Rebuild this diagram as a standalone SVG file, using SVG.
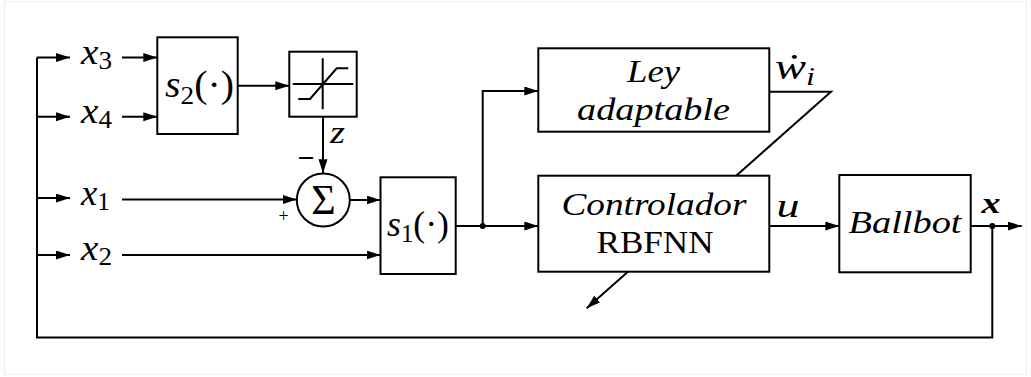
<svg xmlns="http://www.w3.org/2000/svg" width="1031" height="377" viewBox="0 0 1031 377">
<style>
.box{fill:#fff;stroke:#000;stroke-width:2}
.ln{fill:none;stroke:#000;stroke-width:2}
.arr{fill:none;stroke:#000;stroke-width:2;marker-end:url(#ah)}
text{font-family:"Liberation Serif","DejaVu Serif",serif;fill:#000}
.it{font-style:italic}
.lbl{font-size:36px}
.sub{font-size:25px}
.big{font-size:31px}
</style>
<defs>
<marker id="ah" markerUnits="userSpaceOnUse" markerWidth="15" markerHeight="10" refX="14" refY="4.5" orient="auto">
<path d="M0,0 L14,4.5 L0,9 z" fill="#000"/>
</marker>
</defs>
<rect x="4.5" y="1.5" width="1022" height="373" fill="#fff" stroke="#ececec" stroke-width="1"/>
<g id="connectors">
<path class="ln" d="M992.3,226 V337.5 H37 V57.5"/>
<path class="arr" d="M37,57.5 H70"/>
<path class="arr" d="M37,116.7 H70"/>
<path class="arr" d="M37,198 H70"/>
<path class="arr" d="M37,255 H70"/>
<path class="arr" d="M122,57.5 H157.3"/>
<path class="arr" d="M122,116.7 H157.3"/>
<path class="arr" d="M122,199.5 H296.7"/>
<path class="arr" d="M122,255 H380.5"/>
<path class="arr" d="M237.7,85.7 H289.3"/>
<path class="arr" d="M323,116.7 V173.3"/>
<path class="arr" d="M350,200 H380.5"/>
<path class="arr" d="M455.7,226 H538.3"/>
<path class="arr" d="M482.7,226 V91 H538.3"/>
<path class="arr" d="M769.3,91.7 H831 L586.7,308.3"/>
<path class="arr" d="M769.3,226 H839.3"/>
<path class="arr" d="M970.7,226 H1021.7"/>
<circle cx="482.7" cy="226" r="3" fill="#000"/>
<circle cx="992.3" cy="226" r="3" fill="#000"/>
</g>
<g id="labels">
<text class="lbl" x="81" y="64" textLength="31" lengthAdjust="spacingAndGlyphs"><tspan class="it">x</tspan><tspan class="sub" dy="5">3</tspan></text>
<text class="lbl" x="81" y="123" textLength="31" lengthAdjust="spacingAndGlyphs"><tspan class="it">x</tspan><tspan class="sub" dy="5">4</tspan></text>
<text class="lbl" x="81" y="205" textLength="29" lengthAdjust="spacingAndGlyphs"><tspan class="it">x</tspan><tspan class="sub" dy="5">1</tspan></text>
<text class="lbl" x="81" y="260" textLength="31" lengthAdjust="spacingAndGlyphs"><tspan class="it">x</tspan><tspan class="sub" dy="5">2</tspan></text>
<text class="it" x="330" y="143" font-size="32" textLength="15" lengthAdjust="spacingAndGlyphs">z</text>
<text x="305.8" y="168" font-size="30" font-weight="bold" text-anchor="middle">−</text>
<text x="283.5" y="222" font-size="18" text-anchor="middle">+</text>
<text class="lbl" x="775" y="79" textLength="40" lengthAdjust="spacingAndGlyphs"><tspan class="it">ẇ</tspan><tspan class="sub it" dy="6">i</tspan></text>
<text class="it" x="776.5" y="216.5" font-size="34" textLength="23" lengthAdjust="spacingAndGlyphs">u</text>
<text class="it" x="981.5" y="213" font-size="30" font-weight="bold" textLength="19" lengthAdjust="spacingAndGlyphs">x</text>
</g>
<g id="s2">
<rect class="box" x="157.3" y="37.3" width="80.4" height="96.7"/>
<text x="165" y="97" font-size="38" textLength="69" lengthAdjust="spacingAndGlyphs"><tspan class="it">s</tspan><tspan font-size="26" dy="7">2</tspan><tspan dy="-7">(·)</tspan></text>
</g>
<g id="saturation">
<rect class="box" x="289.3" y="51.7" width="67.4" height="65"/>
<path class="ln" d="M292.7,84 H353.3 M322.7,58.3 V109.3 M298.3,99 H310 L336.7,68.3 H348.3"/>
</g>
<g id="sum">
<circle class="box" cx="323.3" cy="200" r="26.5"/>
<text x="323.5" y="214" font-size="42" text-anchor="middle">Σ</text>
</g>
<g id="s1">
<rect class="box" x="380.5" y="177.3" width="75.2" height="96.7"/>
<text x="387" y="236" font-size="36" textLength="62" lengthAdjust="spacingAndGlyphs"><tspan class="it">s</tspan><tspan font-size="25" dy="6">1</tspan><tspan dy="-6">(·)</tspan></text>
</g>
<g id="ley">
<rect class="box" x="538.3" y="48.3" width="231" height="83.4"/>
<text class="it big" x="653.5" y="81.7" text-anchor="middle" textLength="53" lengthAdjust="spacingAndGlyphs">Ley</text>
<text class="it big" x="653.5" y="120" text-anchor="middle" textLength="153" lengthAdjust="spacingAndGlyphs">adaptable</text>
</g>
<g id="controlador">
<rect class="box" x="538.3" y="175.7" width="231" height="96"/>
<text class="it big" x="654" y="215" text-anchor="middle" textLength="185" lengthAdjust="spacingAndGlyphs">Controlador</text>
<text class="big" x="655" y="253.3" text-anchor="middle" textLength="117" lengthAdjust="spacingAndGlyphs">RBFNN</text>
</g>
<g id="ballbot">
<rect class="box" x="839.3" y="175" width="131.4" height="97.3"/>
<text class="it big" x="905" y="232.7" text-anchor="middle" textLength="113" lengthAdjust="spacingAndGlyphs">Ballbot</text>
</g>
</svg>
